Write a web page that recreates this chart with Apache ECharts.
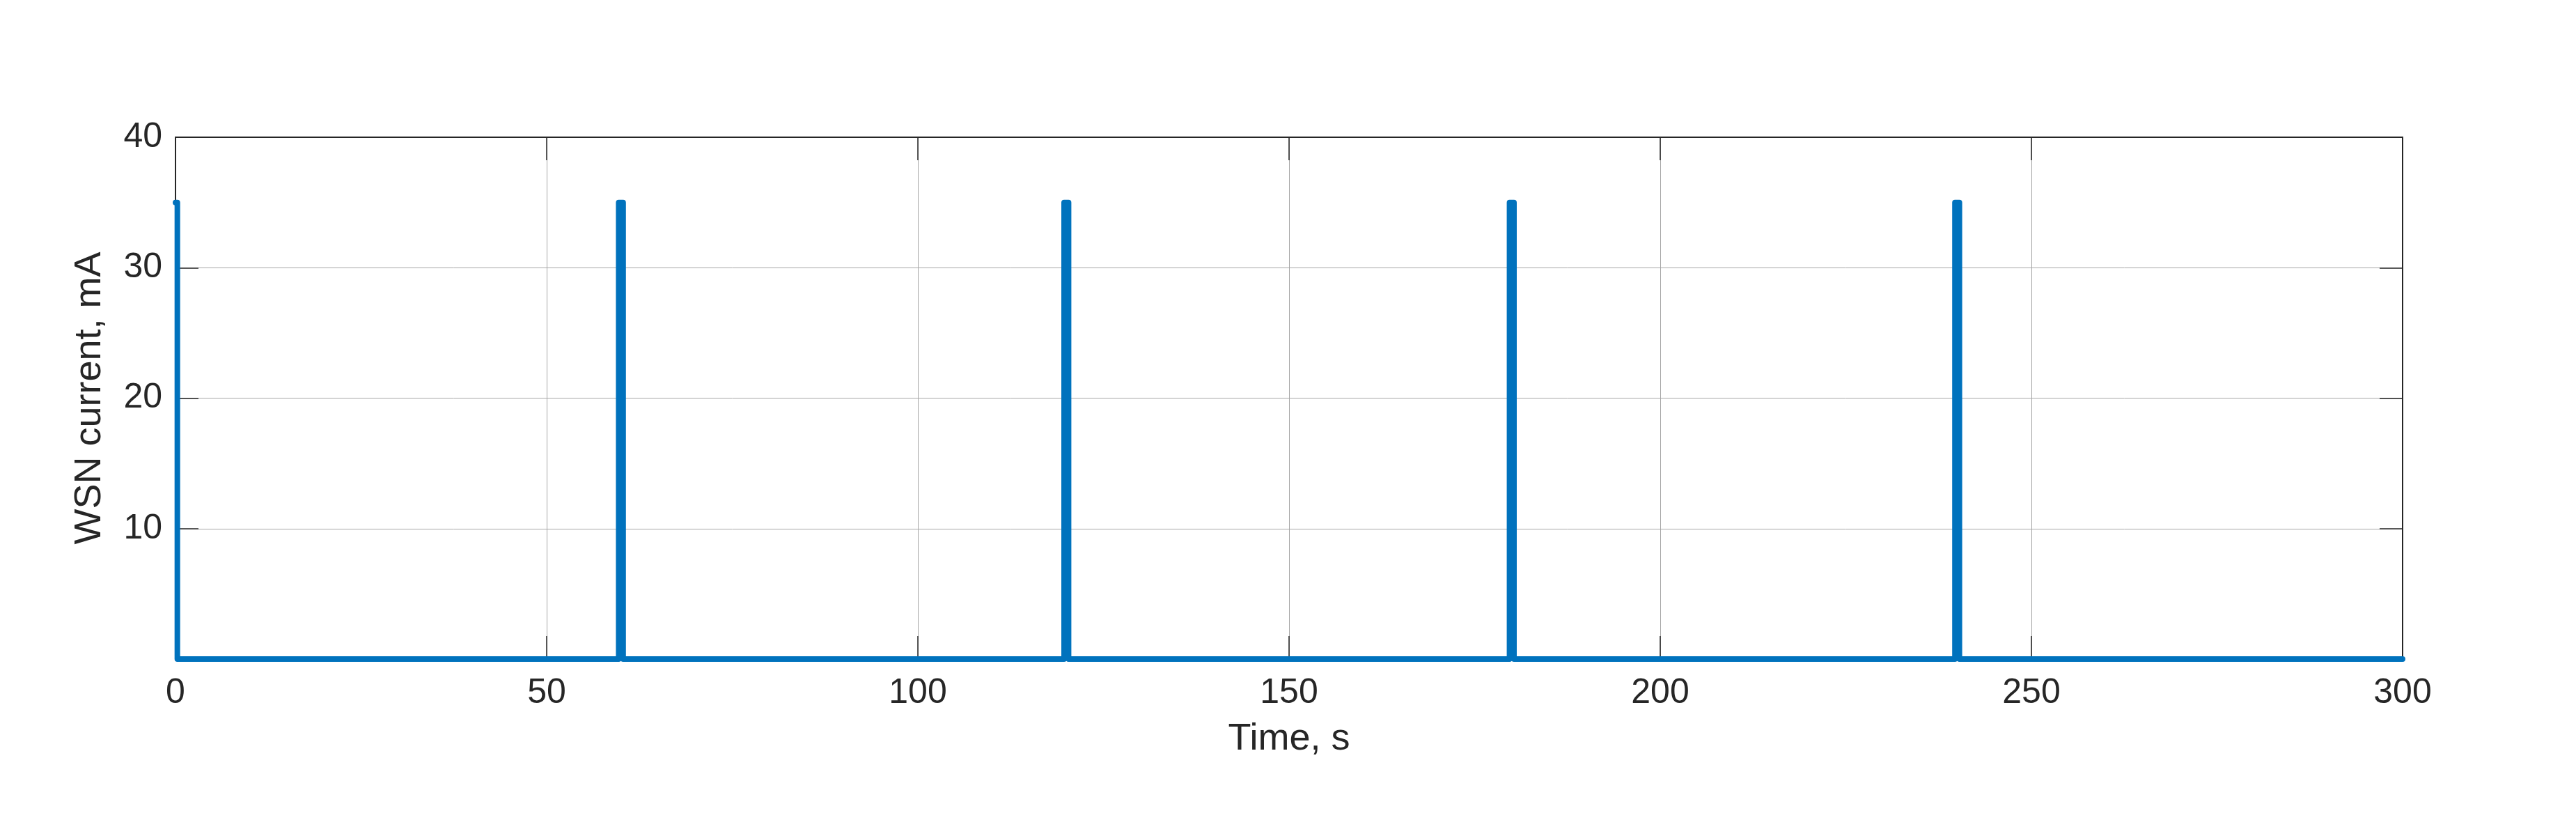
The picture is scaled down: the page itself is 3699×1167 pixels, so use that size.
<!DOCTYPE html>
<html>
<head>
<meta charset="utf-8">
<title>WSN current</title>
<script src="https://cdn.jsdelivr.net/npm/echarts@6/dist/echarts.min.js"></script>
<style>
  * { margin: 0; padding: 0; }
  body { background: #ffffff; }
  #frameL { position: absolute; left: 14px; top: 25px; width: 3px; height: 1142px; background: #f0f0f0; }
  #frameR { position: absolute; left: 3677px; top: 0; width: 6px; height: 1167px; background: #f0f0f0; }
  #mychart { position: absolute; left: 0; top: 0; width: 3699px; height: 1167px; }
</style>
</head>
<body>
<div id="frameL"></div>
<div id="frameR"></div>
<div id="mychart"></div>
<script>
// time in seconds and WSN current in mA
const timeS = [0, 0.25, 0.25, 59.7, 59.7, 60.3, 60.3, 119.7, 119.7, 120.3, 120.3,
  179.7, 179.7, 180.3, 180.3, 239.7, 239.7, 240.3, 240.3, 300]
const currentMA = [35, 35, 0, 0, 35, 35, 0, 0, 35, 35, 0,
  0, 35, 35, 0, 0, 35, 35, 0, 0]
const xTicks = [0, 50, 100, 150, 200, 250, 300]
const yTicks = [10, 20, 30, 40]

const font = 'Liberation Sans, Arial, Helvetica, sans-serif'
const ink = '#262626'

var chart = echarts.init(document.getElementById('mychart'))
const points = timeS.map((t, i) => [t, currentMA[i]])

function tickStyle() {
    return { show: true, inside: true, length: 33, lineStyle: { color: ink, width: 1.5 } }
}
function gridLines() {
    return { show: true, showMinLine: false, showMaxLine: false, lineStyle: { color: '#a6a6a6', width: 1 } }
}

const option = {
    animation: false,
    backgroundColor: '#ffffff',
    grid: {
        left: 252,
        right: 249,
        top: 197,
        bottom: 221,
        show: true,
        borderColor: ink,
        borderWidth: 2,
        backgroundColor: 'transparent',
        z: 3
    },
    xAxis: [
        {
            type: 'value',
            min: xTicks[0],
            max: xTicks[xTicks.length - 1],
            interval: 50,
            name: 'Time, s',
            nameLocation: 'middle',
            nameGap: 88,
            nameTextStyle: { fontFamily: font, fontSize: 54, color: ink },
            axisLine: { show: true, onZero: false, lineStyle: { color: ink, width: 2 } },
            axisTick: tickStyle(),
            axisLabel: { fontFamily: font, fontSize: 50, color: ink, margin: 24 },
            splitLine: gridLines()
        },
        {
            type: 'value',
            position: 'top',
            min: 0, max: 300, interval: 50,
            axisLine: { show: false, onZero: false },
            axisTick: tickStyle(),
            axisLabel: { show: false },
            splitLine: { show: false }
        }
    ],
    yAxis: [
        {
            type: 'value',
            min: 0,
            max: yTicks[yTicks.length - 1],
            interval: 10,
            name: 'WSN current, mA',
            nameLocation: 'middle',
            nameGap: 96,
            nameTextStyle: { fontFamily: font, fontSize: 54, color: ink },
            axisLine: { show: true, onZero: false, lineStyle: { color: ink, width: 2 } },
            axisTick: tickStyle(),
            axisLabel: {
                fontFamily: font, fontSize: 50, color: ink, margin: 19,
                formatter: v => (yTicks.includes(v) ? String(v) : '')
            },
            splitLine: gridLines()
        },
        {
            type: 'value',
            position: 'right',
            min: 0, max: 40, interval: 10,
            axisLine: { show: false, onZero: false },
            axisTick: tickStyle(),
            axisLabel: { show: false },
            splitLine: { show: false }
        }
    ],
    series: [
        {
            type: 'line',
            data: points,
            showSymbol: false,
            clip: false,
            lineStyle: { color: '#0072BD', width: 8, cap: 'round', join: 'round' },
            z: 5
        }
    ]
}
chart.setOption(option)
</script>
</body>
</html>
